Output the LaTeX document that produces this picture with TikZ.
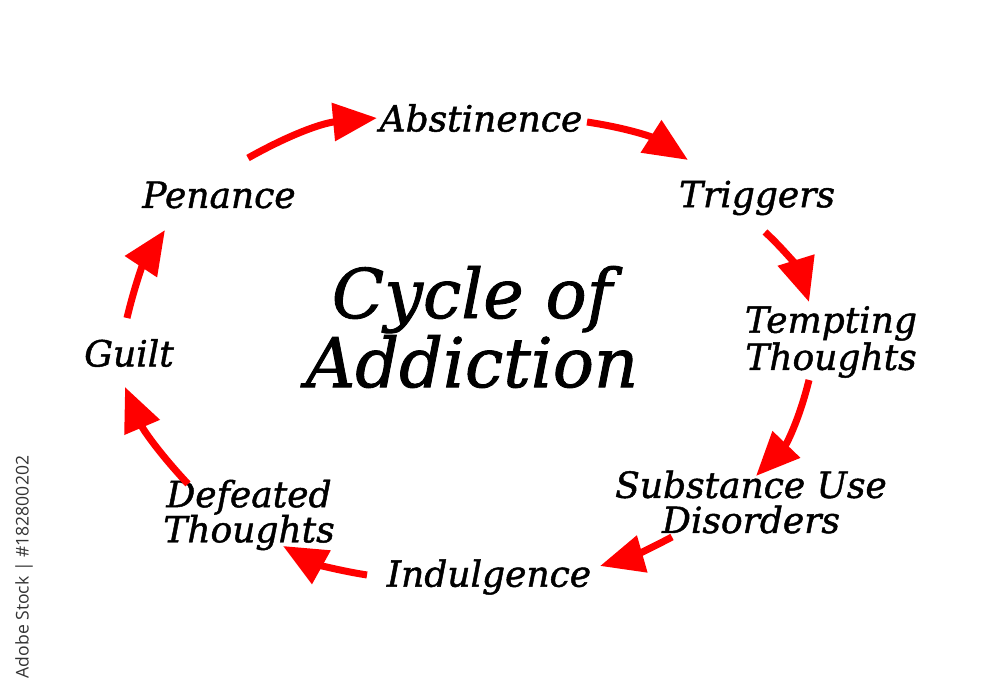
\documentclass[tikz,border=0pt]{standalone}
\usepackage{fontspec}
\setmainfont{DejaVu Serif}[ItalicFeatures={FakeBold=1.3}]
\setsansfont{Open Sans}
\usetikzlibrary{arrows.meta}
\begin{document}
\begin{tikzpicture}[x=0.02cm, y=-0.02cm,
    stage/.style={font=\itshape\fontsize{20.5}{20}\selectfont, align=center, inner sep=0pt},
    cyc/.style={red, line width=4pt, -{Triangle[length=25pt,width=21pt]}}]

  \useasboundingbox (0,0) rectangle (1000,695);

  % title in the middle
  \node[font=\itshape\fontsize{39}{37}\selectfont, align=center] (title) at (472,327) {Cycle of\\Addiction};

  % the stages, clockwise from the top
  \node[stage] (abst) at (481,118) {Abstinence};
  \node[stage] (trig) at (757,198) {Triggers};
  \node[stage] (tempt) at (831,342) {Tempting\\Thoughts};
  \node[stage] (subst) at (751,502) {Substance Use\\Disorders};
  \node[stage] (indul) at (489,577) {Indulgence};
  \node[stage] (defeat) at (249,515) {Defeated\\Thoughts};
  \node[stage] (guilt) at (129,353) {Guilt};
  \node[stage] (pen) at (219,195) {Penance};

  % arrows round the cycle
  \draw[cyc] ([shift={(29,-37)}]pen.center) to[bend left=12] ([shift={(-104,0)}]abst.center);
  \draw[cyc] ([shift={(106,4)}]abst.center) to[bend left=12] ([shift={(-69,-38)}]trig.center);
  \draw[cyc] ([shift={(8,34)}]trig.center) to[bend left=15] ([shift={(-22,-40)}]tempt.center);
  \draw[cyc] ([shift={(-22,38)}]tempt.center) to[bend left=15] ([shift={(5,-26)}]subst.center);
  \draw[cyc] ([shift={(-79,35)}]subst.center) to[bend left=6] ([shift={(111,-11)}]indul.center);
  \draw[cyc] ([shift={(-122,-2)}]indul.center) to[bend left=10] ([shift={(34,31)}]defeat.center);
  \draw[cyc] ([shift={(-61,-31)}]defeat.center) to[bend left=10] ([shift={(-4,34)}]guilt.center);
  \draw[cyc] ([shift={(-2,-35)}]guilt.center) to[bend left=10] ([shift={(-54,35)}]pen.center);

  % stock mark on the left edge
  \node[rotate=90, font=\sffamily\fontsize{10}{12}\selectfont, text=black!80] (stock) at (24,567) {Adobe Stock | \#182800202};

\end{tikzpicture}
\end{document}
